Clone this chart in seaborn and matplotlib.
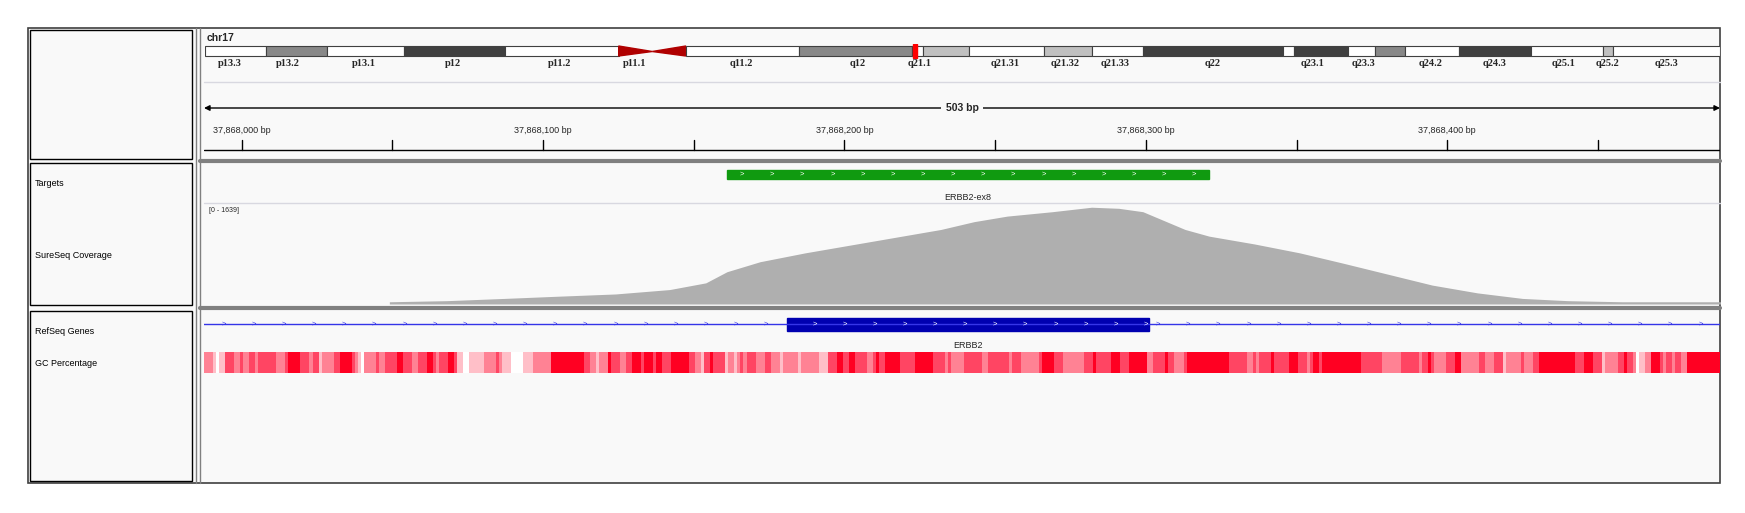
import numpy as np
import matplotlib.pyplot as plt
import seaborn as sns
from matplotlib.patches import Rectangle, Polygon

sns.set_theme(style="white")
plt.rcParams['font.family'] = ['Liberation Sans', 'DejaVu Sans']

# ---- data ----
view_start, view_end = 37867987.5, 37868490.5
target_start, target_end = 37868161, 37868321
exon_start, exon_end = 37868181, 37868301
gene_start, gene_end = 37867987, 37868491

cov_pos = [37868000 + d for d in [49, 68, 87, 105, 124, 142, 154, 161, 172, 187, 202, 217, 232, 243, 254,
                                  269, 282, 291, 299, 306, 313, 321, 336, 351, 365, 380, 395, 410, 425, 440,
                                  458, 491]]
cov_val = [37, 55, 92, 129, 166, 239, 350, 534, 700, 847, 976, 1105, 1234, 1363, 1455,
           1528, 1602, 1584, 1528, 1381, 1234, 1123, 994, 847, 681, 497, 313, 184, 92, 55, 37, 37]
cov_max = 1639

# GC runs: end offset (bp from view start) and level 0..4
gc_end = [3, 4, 5, 7, 10, 12, 13, 15, 17, 18, 24, 27, 28, 32, 35, 36, 38, 39, 43, 45, 49, 50, 51, 52, 53,
          57, 58, 60, 64, 66, 69, 71, 74, 76, 77, 78, 81, 83, 84, 86, 88, 93, 97, 98, 99, 102, 106, 109,
          115, 126, 128, 130, 131, 134, 135, 138, 140, 142, 145, 146, 149, 150, 152, 155, 161, 163, 165,
          166, 168, 169, 173, 174, 176, 177, 178, 179, 180, 183, 186, 188, 191, 192, 197, 198, 204, 207,
          210, 212, 214, 216, 220, 222, 223, 224, 226, 231, 236, 242, 246, 247, 248, 252, 258, 260, 267,
          268, 271, 277, 278, 282, 285, 292, 295, 296, 301, 304, 307, 313, 315, 319, 320, 322, 325, 326,
          340, 346, 348, 349, 350, 354, 355, 360, 363, 366, 367, 368, 370, 371, 384, 391, 397, 403, 404,
          406, 407, 408, 412, 415, 417, 423, 425, 428, 431, 432, 437, 438, 441, 443, 455, 458, 461, 464,
          465, 469, 471, 472, 474, 475, 476, 478, 480, 483, 484, 485, 487, 488, 490, 492, 504]
gc_level = [2, 1, 0, 1, 3, 2, 3, 2, 3, 2, 3, 2, 3, 4, 3, 2, 3, 1, 2, 3, 4, 3, 2, 1, 0,
            2, 3, 2, 3, 4, 3, 2, 3, 4, 3, 2, 3, 4, 3, 1, 0, 1, 2, 3, 2, 1, 0, 1,
            2, 4, 3, 2, 1, 2, 4, 3, 2, 3, 4, 3, 4, 3, 4, 3, 4, 3, 2,
            1, 3, 4, 3, 1, 2, 1, 2, 3, 2, 3, 2, 3, 2, 1, 2, 1, 2, 1,
            3, 4, 3, 4, 3, 2, 3, 4, 3, 4, 3, 4, 3, 2, 3, 2, 3, 2, 3,
            2, 3, 2, 3, 4, 3, 2, 3, 4, 3, 4, 3, 4, 2, 3, 4, 3, 2, 3,
            4, 3, 2, 3, 2, 3, 4, 3, 4, 3, 2, 3, 4, 3, 4, 3, 2, 3, 2,
            3, 4, 3, 2, 3, 4, 2, 3, 2, 3, 1, 2, 3, 2, 3, 4, 3, 4, 3,
            1, 2, 3, 4, 3, 2, 0, 1, 2, 4, 3, 2, 3, 2, 3, 2, 4]
gc_colors = ['#ffffff', '#ffbfc8', '#ff8294', '#ff4563', '#ff0022']

# chr17 ideogram (ideogram units 0..1355)
band_end = [55, 109, 178, 268, 370, 400, 430, 531, 632, 642, 683, 750, 793, 839, 964, 974, 1022, 1046,
            1073, 1122, 1186, 1250, 1259, 1355]
band_shade = ['w', 'g', 'w', 'd', 'w', 'c', 'c', 'w', 'g', 'w', 'l', 'w', 'l', 'w', 'd', 'w', 'd', 'w',
              'g', 'w', 'd', 'w', 'l', 'w']
band_label = ['p13.3', 'p13.2', 'p13.1', 'p12', 'p11.2', 'p11.1', 'q11.2', 'q12', 'q21.1', 'q21.31',
              'q21.32', 'q21.33', 'q22', 'q23.1', 'q23.3', 'q24.2', 'q24.3', 'q25.1', 'q25.2', 'q25.3']
band_label_x = [22, 74, 142, 222, 317, 384, 480, 584, 639, 716, 769, 814, 901, 991, 1036, 1096, 1153,
                1215, 1254, 1307]
shade_color = {'w': '#ffffff', 'g': '#888888', 'd': '#404040', 'l': '#c0c0c0'}

W, H = 1745, 513
fig = plt.figure(figsize=(W / 100, H / 100), dpi=100)
fig.patch.set_facecolor('white')


def px_axes(x0, y0, x1, y1):
    a = fig.add_axes([x0 / W, 1 - y1 / H, (x1 - x0) / W, (y1 - y0) / H])
    a.set_facecolor('none')
    a.set_xticks([]); a.set_yticks([])
    for s in a.spines.values():
        s.set_visible(False)
    return a


# background frames
bg = px_axes(0, 0, W, H)
bg.set_xlim(0, W); bg.set_ylim(H, 0)
bg.add_patch(Rectangle((28, 28), 1692, 455, fc='#f9f9f9', ec='#404040', lw=1.2))
for (y0, y1) in [(30, 159), (163, 305), (311, 481)]:
    bg.add_patch(Rectangle((30, y0), 162, y1 - y0, fc='#f9f9f9', ec='black', lw=1))
for x in [196, 200]:
    bg.plot([x, x], [28, 483], color='#808080', lw=1)
for y in [161, 308]:
    bg.plot([200, 1720], [y, y], color='#808080', lw=3)
bg.plot([204, 1720], [82, 82], color='#d8d8e0', lw=1)
bg.plot([204, 1720], [203, 203], color='#d8d8e0', lw=1)
for txt, y in [('Targets', 183), ('SureSeq Coverage', 255), ('RefSeq Genes', 332), ('GC Percentage', 363)]:
    bg.text(35, y, txt, fontsize=6.5, va='center', ha='left', color='black')
bg.text(207, 38, 'chr17', fontsize=7.5, fontweight='bold', va='center')

# ideogram
ax_i = px_axes(205, 44, 1720, 75)
ax_i.set_xlim(0, 1355); ax_i.set_ylim(31, 0)
start = 0
for e, s in zip(band_end, band_shade):
    if s == 'c':
        if start < 390:
            ax_i.add_patch(Polygon([[start, 2], [start, 12], [e, 7.5]], color='#b00000'))
        else:
            ax_i.add_patch(Polygon([[e, 2], [e, 12], [start, 7.5]], color='#b00000'))
    else:
        ax_i.add_patch(Rectangle((start, 2), e - start, 10, fc=shade_color[s], ec='#404040', lw=0.8))
    start = e
ax_i.add_patch(Rectangle((633, 0), 4, 14, color='#ff0000'))
for lab, x in zip(band_label, band_label_x):
    ax_i.text(x, 19.5, lab, fontsize=7.5, fontweight='bold', family='Liberation Serif', ha='center', va='center')

# ruler
ax_r = px_axes(204, 95, 1720, 168)
ax_r.set_xlim(view_start, view_end); ax_r.set_ylim(73, 0)
ax_r.annotate('', xy=(view_start, 13), xytext=(37868239, 13),
              arrowprops=dict(arrowstyle='-|>', color='black', lw=1, mutation_scale=8, shrinkA=0, shrinkB=0))
ax_r.annotate('', xy=(view_end, 13), xytext=(37868239, 13),
              arrowprops=dict(arrowstyle='-|>', color='black', lw=1, mutation_scale=8, shrinkA=0, shrinkB=0))
ax_r.text(37868239, 13, '503 bp', fontsize=7.5, fontweight='bold', ha='center', va='center',
          bbox=dict(fc='#f9f9f9', ec='none', pad=3))
for t in range(37868000, 37868491, 50):
    ax_r.plot([t, t], [45, 55], color='black', lw=1)
    if t % 100 == 0:
        ax_r.text(t, 36, f'{t:,} bp', fontsize=6.5, ha='center', va='center')
ax_r.plot([view_start, view_end], [55, 55], color='black', lw=1)

# targets
ax_t = px_axes(204, 165, 1720, 202)
ax_t.set_xlim(view_start, view_end); ax_t.set_ylim(37, 0)
ax_t.add_patch(Rectangle((target_start, 5), target_end - target_start, 9, color='#109a10'))
for x in np.arange(target_start + 5, target_end, 10):
    ax_t.text(x, 9.5, '>', color='white', fontsize=5.5, ha='center', va='center')
ax_t.text((target_start + target_end) / 2, 32, 'ERBB2-ex8', fontsize=6.5, ha='center', va='center')

# coverage
ax_c = px_axes(204, 204, 1720, 304)
ax_c.set_xlim(view_start, view_end); ax_c.set_ylim(0, cov_max * 1.01)
ax_c.fill_between(cov_pos, cov_val, color='#afafaf', lw=0)
ax_c.text(view_start + 1.5, cov_max * 0.94, '[0 - 1639]', fontsize=5, va='center')

# genes
ax_g = px_axes(204, 312, 1720, 352)
ax_g.set_xlim(view_start, view_end); ax_g.set_ylim(40, 0)
ax_g.plot([gene_start, gene_end], [12, 12], color='#3535e8', lw=1)
for x in np.arange(gene_start + 7, gene_end, 10):
    if not (exon_start <= x <= exon_end):
        ax_g.text(x, 12, '>', color='#3535e8', fontsize=5.5, ha='center', va='center')
ax_g.add_patch(Rectangle((exon_start, 6), exon_end - exon_start, 13, color='#0000b0'))
for x in np.arange(exon_start + 9, exon_end, 10):
    ax_g.text(x, 12.5, '>', color='white', fontsize=5.5, ha='center', va='center')
ax_g.text((exon_start + exon_end) / 2, 33.5, 'ERBB2', fontsize=6.5, ha='center', va='center')

# GC percentage
ax_p = px_axes(204, 352, 1720, 373)
ax_p.set_xlim(0, view_end - view_start); ax_p.set_ylim(0, 1)
prev = 0
for e, lv in zip(gc_end, gc_level):
    ax_p.bar(prev, 1, width=e - prev, align='edge', color=gc_colors[lv], lw=0)
    prev = e

fig.savefig('out.png', dpi=100)
